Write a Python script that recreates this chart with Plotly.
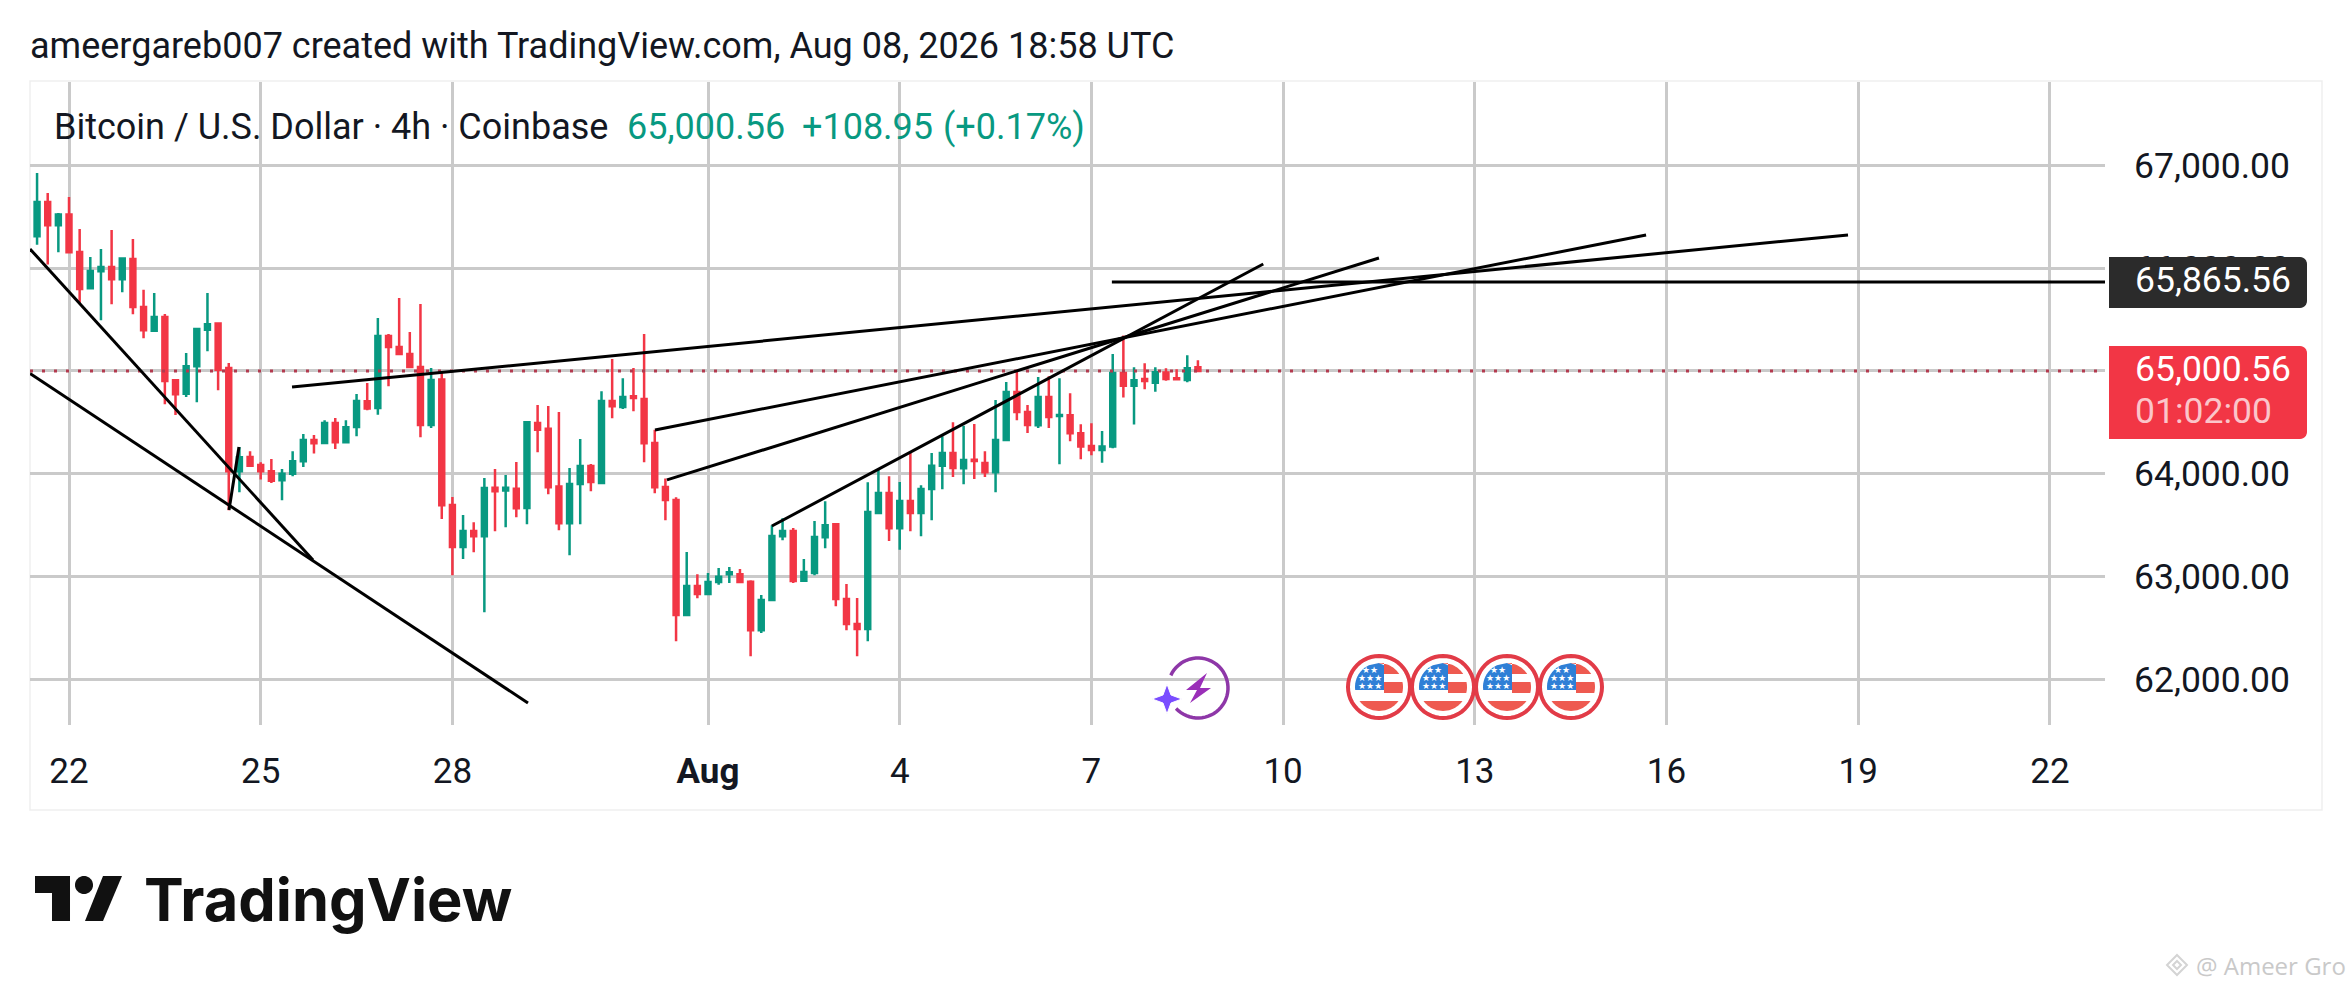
import math
import pandas as pd
import plotly.graph_objects as go

W, H = 2352, 990
PL, PR, PT, PB = 30, 2105, 82, 725

opens = [66310,66644,66417,66521,66158,65804,65970,66012,65892,66090,
         65623,65392,65525,64909,64779,65045,65402,65461,65029,64024,
         64163,64085,64024,63936,64001,64121,64329,64300,64494,64306,
         64455,64705,64640,65341,65233,65165,65039,64475,64916,63696,
         63288,63443,63391,63865,63836,63855,63667,64494,64439,63875,
         63518,63901,64076,63910,64708,64650,64754,64728,64300,63871,
         63745,62626,62908,62830,62947,63022,63022,62950,62477,62772,
         63391,63443,62960,63035,63382,63508,62782,62539,62490,63618,
         63813,63469,63735,63618,63852,64079,64202,64053,64137,64105,
         64014,64329,64796,64601,64471,64747,64562,64569,64394,64270,
         64231,64264,64981,64857,64922,64886,64984,64929,64912,65036]
closes = [66644,66417,66521,66155,65798,65973,66012,65892,66093,65623,
          65396,65525,64903,64773,65045,65409,65454,65013,64024,64160,
          64079,64024,63933,64001,64121,64329,64296,64494,64306,64452,
          64708,64634,65341,65233,65165,65039,64475,64912,63693,63288,
          63443,63391,63862,63829,63865,63664,64501,64429,63868,63518,
          63901,64076,63920,64708,64656,64747,64737,64296,63868,63745,
          62626,62908,62830,62947,62999,63041,62947,62477,62772,63395,
          63443,62957,63044,63385,63499,62782,62539,62490,63628,63813,
          63469,63735,63618,63852,64079,64202,64056,64134,64124,64014,
          64329,64796,64601,64475,64747,64552,64572,64394,64264,64231,
          64264,64981,64857,64909,64903,64987,64922,64919,65026,65000.56]
highs = [66926,66732,66537,66693,66382,66109,66187,66372,66106,66284,
         65791,65759,65555,64916,65175,65418,65759,65467,65078,64261,
         64218,64111,64144,64047,64218,64387,64377,64520,64543,64520,
         64776,64883,65516,65360,65710,65379,65652,65029,64997,63774,
         63599,63528,63959,64047,63988,64115,64501,64669,64659,64601,
         64056,64338,64095,64802,65117,64929,65029,65360,64429,63953,
         63771,63239,63022,63035,63083,63093,63074,62963,62821,63499,
         63567,63473,63171,63541,63732,63521,62928,62792,63917,64040,
         63975,63920,64202,63888,64202,64364,64501,64468,64484,64218,
         64718,64893,65000,64669,64942,64948,64929,64783,64481,64491,
         64416,65165,65344,65036,65075,65036,65026,65016,65152,65104]
lows = [66229,66035,66155,66148,65662,65804,65493,65649,65765,65551,
        65318,65386,64676,64572,64747,64695,65191,64812,63644,63820,
        64073,63943,63910,63742,63975,64066,64196,64300,64241,64300,
        64364,64617,64575,64851,65165,65039,64355,64445,63560,63012,
        63171,63236,62652,63440,63479,63576,63508,64209,63800,63450,
        63207,63508,63829,63901,64539,64630,64608,64111,63810,63547,
        62370,62626,62788,62830,62921,62937,62947,62224,62451,62759,
        63353,62937,62947,63012,63275,62710,62477,62224,62370,63612,
        63346,63262,63440,63391,63547,63849,63969,63897,63949,63969,
        63820,64325,64520,64397,64445,64445,64092,64316,64141,64180,
        64108,64248,64741,64478,64822,64799,64906,64919,64890,64994]

candle_start = "2026-07-21 12:00"
candle_freq = "4h"
times = pd.date_range(candle_start, periods=len(opens), freq=candle_freq)

x_range = ["2026-07-21 09:21", "2026-08-22 20:41"]
y_range = [61556, 67811]

last_price = 65000.56
level_price = 65865.56

x_tick_dates = ["2026-07-22","2026-07-25","2026-07-28","2026-08-01","2026-08-04","2026-08-07",
                "2026-08-10","2026-08-13","2026-08-16","2026-08-19","2026-08-22"]
x_tick_text = ["22","25","28","<b>Aug</b>","4","7","10","13","16","19","22"]
y_tick_vals = [62000,63000,64000,65000,66000,67000]

trend_names = ["lower", "upper", "spike", "long", "mid", "short", "steep", "level"]
trend_x = [["2026-07-21 09:21","2026-07-29 04:23"],
           ["2026-07-21 09:21","2026-07-25 19:38"],
           ["2026-07-24 12:06","2026-07-24 15:50"],
           ["2026-07-25 11:46","2026-08-18 20:10"],
           ["2026-07-31 04:05","2026-08-15 16:19"],
           ["2026-07-31 08:35","2026-08-11 12:00"],
           ["2026-08-02 00:00","2026-08-09 16:33"],
           ["2026-08-07 07:41","2026-08-22 20:41"]]
trend_y = [[64975,61770],[66187,63161],[63648,64261],[64844,66323],
           [64426,66323],[63940,66099],[63492,66041],[level_price,level_price]]

GREEN, RED = "#089981", "#F23645"
FONT = "Roboto"

def fx(x): return (x - PL) / (PR - PL)
def fy(y): return 1 - (y - PT) / (PB - PT)
def pt(x, y): return f"{fx(x):.5f},{fy(y):.5f}"
def poly(points, close=True):
    return "M" + " L".join(pt(a, b) for a, b in points) + (" Z" if close else "")

shapes, annos = [], []

def add_path(path, fill="rgba(0,0,0,0)", line=None, width=0):
    shapes.append(dict(type="path", xref="paper", yref="paper", path=path, fillcolor=fill,
                       line=dict(color=line or "rgba(0,0,0,0)", width=width), layer="above"))

def add_text(x, y, text, size, color, anchor="left", family=FONT, weight=None):
    font = dict(family=family, size=size, color=color)
    if weight:
        font["weight"] = weight
    annos.append(dict(xref="paper", yref="paper", x=fx(x), y=fy(y), text=text, showarrow=False,
                      xanchor=anchor, yanchor="middle", font=font, borderpad=0, borderwidth=0))

def rounded_tag(x0, y0, x1, y1, r, fill):
    pts = [(x0, y0)]
    for i in range(7):
        a = -math.pi / 2 + i * math.pi / 12
        pts.append((x1 - r + r * math.cos(a), y0 + r + r * math.sin(a)))
    for i in range(7):
        a = i * math.pi / 12
        pts.append((x1 - r + r * math.cos(a), y1 - r + r * math.sin(a)))
    pts.append((x0, y1))
    add_path(poly(pts), fill=fill)

def circle_pts(cx, cy, r, a0=0, a1=360, n=48):
    return [(cx + r * math.cos(math.radians(a0 + (a1 - a0) * i / n)),
             cy + r * math.sin(math.radians(a0 + (a1 - a0) * i / n))) for i in range(n + 1)]

def band(cx, cy, r, y0, y1, x0, x1, fill):
    # part of a rectangle (x0..x1, y0..y1) that lies inside a circle
    left, right = [], []
    for i in range(13):
        y = y0 + (y1 - y0) * i / 12
        dy = y - cy
        half = math.sqrt(max(r * r - dy * dy, 0))
        left.append((max(cx - half, x0), y))
        right.append((min(cx + half, x1), y))
    add_path(poly(left + right[::-1]), fill=fill)

def flag(cx, cy):
    add_path(poly(circle_pts(cx, cy, 31)), fill="#ffffff", line="#E23B47", width=4)
    r = 24
    band(cx, cy, r, cy - 24, cy + 3, cx - 24, cx + 5, "#2F7FD6")
    band(cx, cy, r, cy - 24, cy - 13, cx + 5, cx + 24, "#EE5A50")
    band(cx, cy, r, cy - 5, cy + 6, cx + 5, cx + 24, "#EE5A50")
    band(cx, cy, r, cy + 14, cy + 24, cx - 24, cx + 24, "#EE5A50")
    for dy, txt in [(-17, "★★"), (-9, "★★★"), (-1, "★★★")]:
        add_text(cx - 9, cy + dy, txt, 9, "#ffffff", anchor="center", family="DejaVu Sans")

# card frame
shapes.append(dict(type="rect", xref="paper", yref="paper", x0=fx(30), x1=fx(2322), y0=fy(810), y1=fy(81),
                   line=dict(color="#efefef", width=1.5), layer="below"))

# price tags
rounded_tag(2109, 257, 2307, 308, 7, "#2B2B2B")
rounded_tag(2109, 346, 2307, 439, 7, RED)
add_text(2135, 280, "65,865.56", 35.5, "#ffffff")
add_text(2135, 369, "65,000.56", 35.5, "#ffffff")
add_text(2135, 411, "01:02:00", 35.5, "#FBC5CA")

# event icons
for cx in [1379, 1443, 1507, 1571]:
    flag(cx, 687)
add_path(poly(circle_pts(1198, 688, 30, 205, 497), close=False), line="#8E37A8", width=3.5)
add_path(poly([(1207, 673), (1186, 690), (1197, 690), (1190, 703), (1211, 688), (1200, 688)]), fill="#9A2FB8")
add_path(poly([(1167, 684), (1171, 695), (1182, 699), (1171, 703), (1167, 714),
               (1163, 703), (1152, 699), (1163, 695)]), fill="#7A4DFF", line="#ffffff", width=1)

# header and legend
add_text(30, 46, "ameergareb007 created with TradingView.com, Aug 08, 2026 18:58 UTC", 36, "#131722")
add_text(54, 127, "Bitcoin / U.S. Dollar · 4h · Coinbase", 36, "#131722")
add_text(627, 127, "65,000.56", 36, GREEN)
add_text(802, 127, "+108.95", 36, GREEN)
add_text(943, 127, "(+0.17%)", 36, GREEN)

# TradingView mark
LOGO = "#111111"
add_path(poly([(35, 876), (70, 876), (70, 921), (52, 921), (52, 893), (35, 893)]), fill=LOGO)
add_path(poly(circle_pts(84, 885, 9)), fill=LOGO)
add_path(poly([(103, 876), (122, 876), (103, 921), (85, 921)]), fill=LOGO)
add_text(144, 899, "TradingView", 59.5, LOGO, family="Inter", weight=700)

# watermark
add_path(poly([(2177, 955), (2187, 965), (2177, 975), (2167, 965)]), line="#d4d4d4", width=2)
add_path(poly([(2177, 961), (2181, 965), (2177, 969), (2173, 965)]), line="#d4d4d4", width=2)
add_text(2196, 965, "@ Ameer Gro", 24, "#c9c9c9", family="Open Sans")

fig = go.Figure()
fig.add_trace(go.Scatter(x=x_range, y=[last_price, last_price], mode="lines", hoverinfo="skip",
                         line=dict(color="#B23A4E", width=3, dash="3px,9px"), showlegend=False))
fig.add_trace(go.Candlestick(
    x=times, open=opens, high=highs, low=lows, close=closes, showlegend=False,
    whiskerwidth=0,
    increasing=dict(line=dict(color=GREEN, width=2.5), fillcolor=GREEN),
    decreasing=dict(line=dict(color=RED, width=2.5), fillcolor=RED),
))
for name, tx, ty in zip(trend_names, trend_x, trend_y):
    fig.add_trace(go.Scatter(x=tx, y=ty, mode="lines", name=name, showlegend=False,
                             line=dict(color="#000000", width=3)))

GRID = "#CACACA"
fig.update_layout(
    width=W, height=H, autosize=False, boxgap=0.34,
    margin=dict(l=PL, r=W - PR, t=PT, b=H - PB, pad=0),
    paper_bgcolor="#ffffff", plot_bgcolor="#ffffff",
    showlegend=False, shapes=shapes, annotations=annos,
    font=dict(family=FONT, size=35, color="#131722"),
    xaxis=dict(type="date", range=x_range, tickmode="array", tickvals=x_tick_dates, ticktext=x_tick_text,
               rangeslider=dict(visible=False), showgrid=True, gridcolor=GRID, gridwidth=2.5,
               zeroline=False, showline=False, ticks="", tickangle=0, ticklabelstandoff=22,
               tickfont=dict(family=FONT, size=35, color="#131722")),
    yaxis=dict(side="right", range=y_range, tickmode="array", tickvals=y_tick_vals, tickformat=",.2f",
               showgrid=True, gridcolor=GRID, gridwidth=2.5, zeroline=False, showline=False, ticks="",
               ticklabelstandoff=28, tickfont=dict(family=FONT, size=35.5, color="#131722")),
)
fig.write_html("out.html", config=dict(displayModeBar=False),
               post_script="document.body.style.margin='0';document.body.style.overflow='hidden';")
